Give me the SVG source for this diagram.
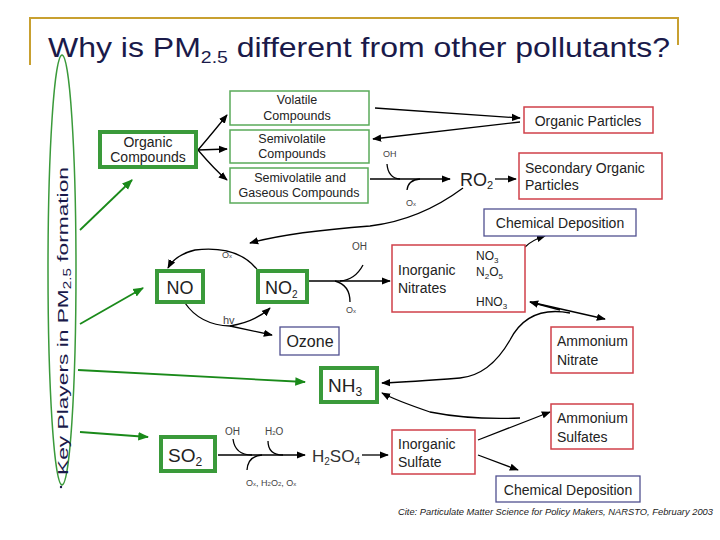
<svg xmlns="http://www.w3.org/2000/svg" width="720" height="540" viewBox="0 0 720 540">
<defs>
<marker id="a" viewBox="0 0 10 10" refX="9" refY="5" markerWidth="7" markerHeight="7" orient="auto"><path d="M0,1L10,5L0,9z" fill="#000"/></marker>
<marker id="g" viewBox="0 0 10 10" refX="9" refY="5" markerWidth="6" markerHeight="6" orient="auto"><path d="M0,1L10,5L0,9z" fill="#1a8a1a"/></marker>
</defs>
<style>
text{font-family:"Liberation Sans",Arial,sans-serif;fill:#222}
.gk{fill:#fff;stroke:#3a9a3a;stroke-width:4}
.gt{fill:#fff;stroke:#5aaa5a;stroke-width:1.5}
.r{fill:#fff;stroke:#d0404a;stroke-width:1.5}
.b{fill:#fff;stroke:#505090;stroke-width:1.3}
.c path,.c line{fill:none;stroke:#000;stroke-width:1.3}
.ar{marker-end:url(#a)}
.gl line{stroke:#1a8a1a;stroke-width:1.8;marker-end:url(#g)}
.s{fill:#444}
.m{text-anchor:middle}
</style>
<rect width="720" height="540" fill="#fff"/>
<path d="M30,65V18H678V45" fill="none" stroke="#c8a030" stroke-width="2"/>
<text x="48" y="57" font-size="28" textLength="622" lengthAdjust="spacingAndGlyphs" style="fill:#1a1a4a">Why is PM<tspan font-size="17" dy="6">2.5</tspan><tspan dy="-6"> different from other pollutants?</tspan></text>
<ellipse cx="62" cy="270" rx="14" ry="215" fill="none" stroke="#3a9a3a" stroke-width="1.5"/>
<text transform="translate(68,475) rotate(-90)" font-size="15" textLength="308" lengthAdjust="spacingAndGlyphs" style="fill:#1a1a4a">Key Players in PM<tspan font-size="10" dy="3">2.5</tspan><tspan dy="-3"> formation</tspan></text>
<circle cx="61" cy="487" r="1.2" fill="#1a1a4a"/>
<g class="gl">
<line x1="80" y1="230" x2="132" y2="180"/>
<line x1="80" y1="324" x2="143" y2="288"/>
<line x1="78" y1="370" x2="305" y2="382"/>
<line x1="80" y1="432" x2="148" y2="437"/>
</g>
<g class="c">
<path class="ar" d="M198,150Q215,130 227,115"/>
<line class="ar" x1="198" y1="150" x2="227" y2="149"/>
<path class="ar" d="M198,150Q215,170 227,180"/>
<path class="ar" d="M375,108L520,118"/>
<path class="ar" d="M520,122L373,139"/>
<path class="ar" d="M370,179H450"/>
<path d="M387,164Q388,178 400,179"/>
<path d="M407,190Q408,180 420,179"/>
<path class="ar" d="M495,179H516"/>
<path class="ar" d="M463,188Q420,220 370,226Q290,232 250,243"/>
<path class="ar" d="M259,272Q240,245 195,250Q175,255 168,268"/>
<path class="ar" d="M308,281H390"/>
<path d="M363,265Q355,280 340,281"/>
<path d="M350,302Q350,285 335,281"/>
<path class="ar" d="M525,247Q532,240 545,236"/>
<path class="ar" d="M530,302L605,319"/>
<path class="ar" d="M560,310L530,302"/>
<path class="ar" d="M185,303Q200,325 230,326Q255,322 270,308"/>
<path class="ar" d="M230,326L272,335"/>
<path class="ar" d="M570,313Q528,305 510,340Q490,375 460,378Q410,382 382,383"/>
<path class="ar" d="M520,418Q470,420 430,412Q395,400 382,393"/>
<path class="ar" d="M478,440L550,412"/>
<path class="ar" d="M478,455L518,470"/>
<path class="ar" d="M218,455H305"/>
<path d="M233,439Q235,455 252,455"/>
<path d="M268,441Q268,455 283,455"/>
<path d="M247,470Q248,456 262,455"/>
<path class="ar" d="M362,455H388"/>
<path class="ar" d="M459,261V276"/>
</g>
<g id="organic"><rect class="gk" x="100" y="132" width="96" height="35"/><text class="m" x="148" y="147" font-size="14">Organic</text><text class="m" x="148" y="162" font-size="14">Compounds</text></g>
<g id="volatile"><rect class="gt" x="230" y="91" width="139" height="34"/><text class="m" x="297" y="104" font-size="12.5">Volatile</text><text class="m" x="297" y="120" font-size="12.5">Compounds</text></g>
<g id="semivol"><rect class="gt" x="230" y="130" width="139" height="33"/><text class="m" x="292" y="143" font-size="12.5">Semivolatile</text><text class="m" x="292" y="158" font-size="12.5">Compounds</text></g>
<g id="semigas"><rect class="gt" x="230" y="168" width="138" height="35"/><text class="m" x="300" y="182" font-size="12.5">Semivolatile and</text><text class="m" x="299" y="197" font-size="12.5">Gaseous Compounds</text></g>
<g id="orgpart"><rect class="r" x="524" y="107" width="129" height="26"/><text class="m" x="588" y="126" font-size="14">Organic Particles</text></g>
<g id="soa"><rect class="r" x="519" y="153" width="143" height="46"/><text x="525" y="173" font-size="14">Secondary Organic</text><text x="525" y="190" font-size="14">Particles</text></g>
<text id="ro2" x="460" y="186" font-size="18">RO<tspan font-size="11" dy="3">2</tspan></text>
<text class="s" x="383" y="157" font-size="9">OH</text>
<text class="s" x="406" y="206" font-size="9">O<tspan font-size="6">x</tspan></text>
<g id="chemdep1"><rect class="b" x="484" y="209" width="152" height="27"/><text class="m" x="560" y="228" font-size="14">Chemical Deposition</text></g>
<g id="no"><rect class="gk" x="157" y="271" width="46" height="31"/><text class="m" x="180" y="294" font-size="18">NO</text></g>
<g id="no2"><rect class="gk" x="258" y="271" width="49" height="31"/><text x="265" y="294" font-size="18">NO<tspan font-size="10" dy="4">2</tspan></text></g>
<text class="s" x="222" y="258" font-size="9">O<tspan font-size="6">x</tspan></text>
<text class="s" x="352" y="250" font-size="10">OH</text>
<text class="s" x="346" y="313" font-size="9">O<tspan font-size="6">x</tspan></text>
<text x="223" y="324" font-size="11" style="fill:#444">hv</text>
<g id="ozone"><rect class="b" x="280" y="327" width="59" height="28"/><text class="m" x="310" y="347" font-size="16">Ozone</text></g>
<g id="nitrates"><rect class="r" x="392" y="245" width="133" height="67"/><text x="398" y="275" font-size="14">Inorganic</text><text x="398" y="293" font-size="14">Nitrates</text><text x="476" y="260" font-size="12">NO<tspan font-size="8" dy="3">3</tspan></text><text x="476" y="276" font-size="12">N<tspan font-size="8" dy="3">2</tspan><tspan dy="-3">O</tspan><tspan font-size="8" dy="3">5</tspan></text><text x="476" y="306" font-size="12">HNO<tspan font-size="8" dy="3">3</tspan></text></g>
<g id="amnit"><rect class="r" x="551" y="327" width="82" height="46"/><text x="557" y="346" font-size="14">Ammonium</text><text x="557" y="365" font-size="14">Nitrate</text></g>
<g id="nh3"><rect class="gk" x="321" y="368" width="56" height="34"/><text x="328" y="392" font-size="19">NH<tspan font-size="12" dy="4">3</tspan></text></g>
<g id="amsul"><rect class="r" x="551" y="404" width="82" height="45"/><text x="557" y="423" font-size="14">Ammonium</text><text x="557" y="442" font-size="14">Sulfates</text></g>
<g id="so2"><rect class="gk" x="161" y="437" width="54" height="34"/><text x="168" y="462" font-size="19">SO<tspan font-size="12" dy="4">2</tspan></text></g>
<text class="s" x="225" y="435" font-size="10">OH</text>
<text class="s" x="265" y="435" font-size="10">H<tspan font-size="6">2</tspan>O</text>
<text class="s" x="246" y="486" font-size="9">O<tspan font-size="6">x</tspan>, H<tspan font-size="6">2</tspan>O<tspan font-size="6">2</tspan>, O<tspan font-size="6">x</tspan></text>
<text id="h2so4" x="312" y="462" font-size="17" style="fill:#333">H<tspan font-size="10" dy="3">2</tspan><tspan dy="-3">SO</tspan><tspan font-size="10" dy="3">4</tspan></text>
<g id="sulfate"><rect class="r" x="392" y="430" width="83" height="44"/><text x="398" y="449" font-size="14">Inorganic</text><text x="398" y="467" font-size="14">Sulfate</text></g>
<g id="chemdep2"><rect class="b" x="496" y="476" width="144" height="26"/><text class="m" x="568" y="495" font-size="14">Chemical Deposition</text></g>
<text x="398" y="515" font-size="9" textLength="315" lengthAdjust="spacingAndGlyphs" font-style="italic">Cite: Particulate Matter Science for Policy Makers, NARSTO, February 2003</text>
</svg>
